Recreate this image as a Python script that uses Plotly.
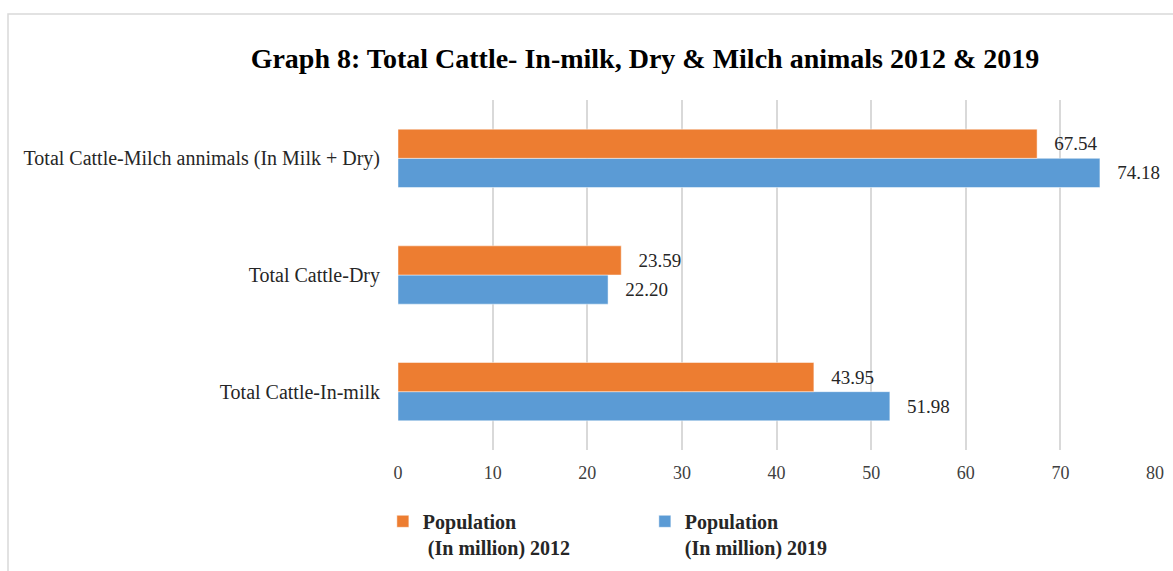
import plotly.graph_objects as go

categories = ["Total Cattle-In-milk", "Total Cattle-Dry", "Total Cattle-Milch annimals (In Milk + Dry)"]
pop_2012 = [43.95, 23.59, 67.54]
pop_2019 = [51.98, 22.20, 74.18]
name_2012 = "Population<br> (In million) 2012"
name_2019 = "Population<br>(In million) 2019"
x_ticks = [0, 10, 20, 30, 40, 50, 60, 70, 80]

FONT = "Liberation Serif"
ORANGE = "#ED7D31"
BLUE = "#5B9BD5"

fig = go.Figure()
fig.add_trace(go.Bar(
    y=categories, x=pop_2019, orientation="h", name=name_2019,
    marker=dict(color=BLUE, line=dict(color="rgba(255,255,255,0.6)", width=0.8)),
    text=[f"{v:.2f}" for v in pop_2019], texttemplate="   %{text}",
    textposition="outside", cliponaxis=False,
    textfont=dict(family=FONT, size=19, color="#262626"), legendrank=2,
))
fig.add_trace(go.Bar(
    y=categories, x=pop_2012, orientation="h", name=name_2012,
    marker=dict(color=ORANGE, line=dict(color="rgba(255,255,255,0.6)", width=0.8)),
    text=[f"{v:.2f}" for v in pop_2012], texttemplate="   %{text}",
    textposition="outside", cliponaxis=False,
    textfont=dict(family=FONT, size=19, color="#262626"), legendrank=1,
))

fig.update_layout(
    width=1173, height=571,
    margin=dict(l=398, r=18, t=100, b=121, autoexpand=False),
    paper_bgcolor="white", plot_bgcolor="white",
    barmode="group", bargap=0.5, bargroupgap=0,
    font=dict(family=FONT, color="#262626"),
    title=dict(
        text="<b>Graph 8: Total Cattle- In-milk, Dry &amp; Milch animals 2012 &amp; 2019</b>",
        x=645 / 1173, xanchor="center", xref="container",
        y=1 - 58 / 571, yanchor="middle", yref="container",
        font=dict(family=FONT, size=28, color="black"),
    ),
    xaxis=dict(
        range=[0, 80], tickvals=x_ticks, showgrid=True, gridcolor="#D9D9D9", gridwidth=1.5,
        zeroline=False, showline=False, ticks="outside", ticklen=6, tickcolor="rgba(0,0,0,0)",
        tickfont=dict(family=FONT, size=18, color="#404040"), automargin=False,
    ),
    yaxis=dict(
        categoryorder="array", categoryarray=categories, range=[-0.5, 2.5],
        showgrid=False, zeroline=False, showline=False, ticks="outside", ticklen=13, tickcolor="rgba(0,0,0,0)",
        tickfont=dict(family=FONT, size=20, color="#262626"), automargin=False,
    ),
    legend=dict(
        orientation="h", x=-0.02, xanchor="left", y=-0.148, yanchor="top",
        entrywidth=217, entrywidthmode="pixels", valign="top",
        font=dict(family=FONT, size=20, color="#262626", weight="bold"),
        traceorder="normal",
    ),
    shapes=[dict(
        type="rect", xref="paper", yref="paper",
        x0=(8 - 398) / 757, x1=1.2, y0=-0.6, y1=(450 - 14) / 350,
        line=dict(color="#D9D9D9", width=1.5), fillcolor="rgba(0,0,0,0)", layer="below",
    )],
)

fig.write_html(
    "out.html",
    config={"displayModeBar": False},
    post_script="document.body.style.margin='0';document.body.style.overflow='hidden';",
)
